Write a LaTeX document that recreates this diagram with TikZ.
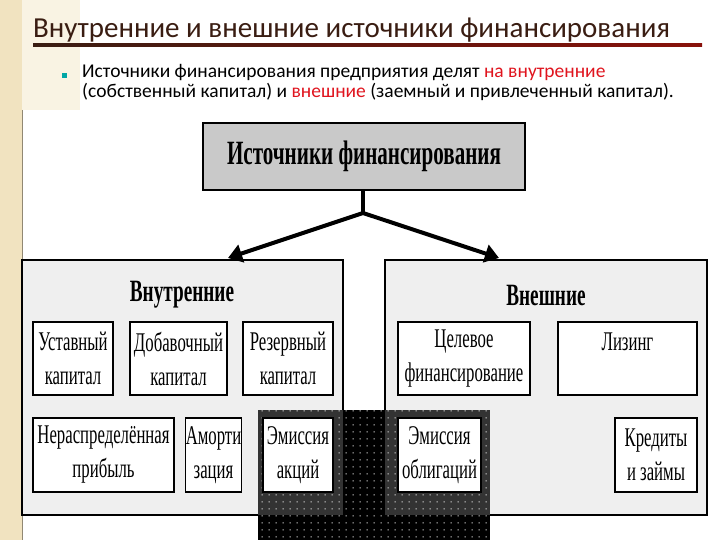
\documentclass[tikz,border=0pt]{standalone}
\usepackage{fontspec}
\setmainfont{Carlito}
\newfontfamily\cond[FakeStretch=0.62]{Liberation Serif}
\usetikzlibrary{arrows.meta,patterns.meta}
\definecolor{beige}{HTML}{F1E3C0}
\definecolor{panel}{HTML}{EFEFEF}
\definecolor{topbox}{HTML}{C9C9C9}
\definecolor{titlec}{HTML}{3A1D12}
\definecolor{redt}{HTML}{E0141E}
\pgfdeclarepattern{name=sparsedots,type=uncolored,bottom left={\pgfpoint{0pt}{0pt}},top right={\pgfpoint{7pt}{7pt}},tile size={\pgfpoint{7pt}{7pt}},code={\pgfpathrectangle{\pgfpoint{3pt}{3pt}}{\pgfpoint{1.2pt}{1.2pt}}\pgfusepath{fill}}}
\tikzset{
 small/.style={draw=black,line width=1.2pt,fill=white,font=\cond\fontsize{27}{29}\selectfont,align=center,inner sep=0pt},
 panelbox/.style={draw=black,line width=1.5pt,fill=panel},
 head/.style={font=\cond\bfseries\fontsize{31}{32}\selectfont},
 arr/.style={line width=4pt,-{Triangle[length=14pt,width=18pt]}}
}
\begin{document}
\begin{tikzpicture}[x=1pt,y=-1pt]
\useasboundingbox (0,0) rectangle (720,540);
\fill[white] (0,0) rectangle (720,540);
\fill[beige] (0,0) rectangle (22,540);
\fill[beige!45] (22,0) rectangle (80,110);
\draw[beige!60!black,line width=0.6pt] (22,110) -- (22,540);
% title
\node[anchor=base west,text=titlec,font=\fontsize{29}{30}\selectfont,inner sep=0] (title) at (33,38) {Внутренние и внешние источники финансирования};
\shade[left color=titlec,right color=titlec!60!red] (33,44) rectangle (702,46.5);
\fill[teal!70!cyan] (62,73) rectangle (67,78);
\node[anchor=north west,font=\fontsize{19.5}{20}\selectfont,inner sep=0,align=left] (txt) at (82,64)
 {Источники финансирования предприятия делят \textcolor{redt}{на внутренние}\\(собственный капитал) и \textcolor{redt}{внешние} (заемный и привлеченный капитал).};
% top box
\node[draw=black,line width=2pt,fill=topbox,minimum width=322pt,minimum height=67pt,font=\cond\bfseries\fontsize{34}{36}\selectfont] (src) at (364,156.5) {Источники финансирования};
% panels
\draw[panelbox] (22,260) rectangle (343,515);
\draw[panelbox] (385,260) rectangle (707,515);
% dark region
\fill[black] (258,410) rectangle (490,540);
\fill[black!80] (258,410) rectangle (343,515);
\fill[black!80] (385,410) rectangle (490,515);
\fill[pattern={sparsedots},pattern color=white] (258,410) rectangle (490,540);
\node[head] (in) at (182,295) {Внутренние};
\node[head] (ex) at (546,295) {Внешние};
\coordinate (mid) at (363,213);
\draw[line width=4pt] (src.south -| mid) -- (mid);
\draw[arr] (mid) -- (228,258);
\draw[arr] (mid) -- (499,258);
% small boxes
\node[small,minimum width=80pt,minimum height=73pt] (a1) at (73,358.5) {Уставный\\[5pt]капитал};
\node[small,minimum width=97pt,minimum height=73pt] (a2) at (178.5,358.5) {Добавочный\\[5pt]капитал};
\node[small,minimum width=90pt,minimum height=73pt] (a3) at (288,358.5) {Резервный\\[5pt]капитал};
\node[small,minimum width=141pt,minimum height=74pt] (a4) at (103.5,455) {Нераспределённая\\[5pt]прибыль};
\node[small,minimum width=55pt,minimum height=74pt] (a5) at (213.5,455) {Аморти\\[5pt]зация};
\node[small,minimum width=70pt,minimum height=74pt] (a6) at (298,455) {Эмиссия\\[5pt]акций};
\node[small,minimum width=132pt,minimum height=73pt] (b1) at (464,358.5) {Целевое\\[5pt]финансирование};
\node[small,minimum width=139pt,minimum height=73pt] (b2) at (627.5,358.5) {Лизинг\\[5pt]\phantom{Л}};
\node[small,minimum width=83pt,minimum height=74pt] (b3) at (439.5,455) {Эмиссия\\[5pt]облигаций};
\node[small,minimum width=82pt,minimum height=74pt] (b4) at (656,455) {Кредиты\\[5pt]и займы};
\end{tikzpicture}
\end{document}
